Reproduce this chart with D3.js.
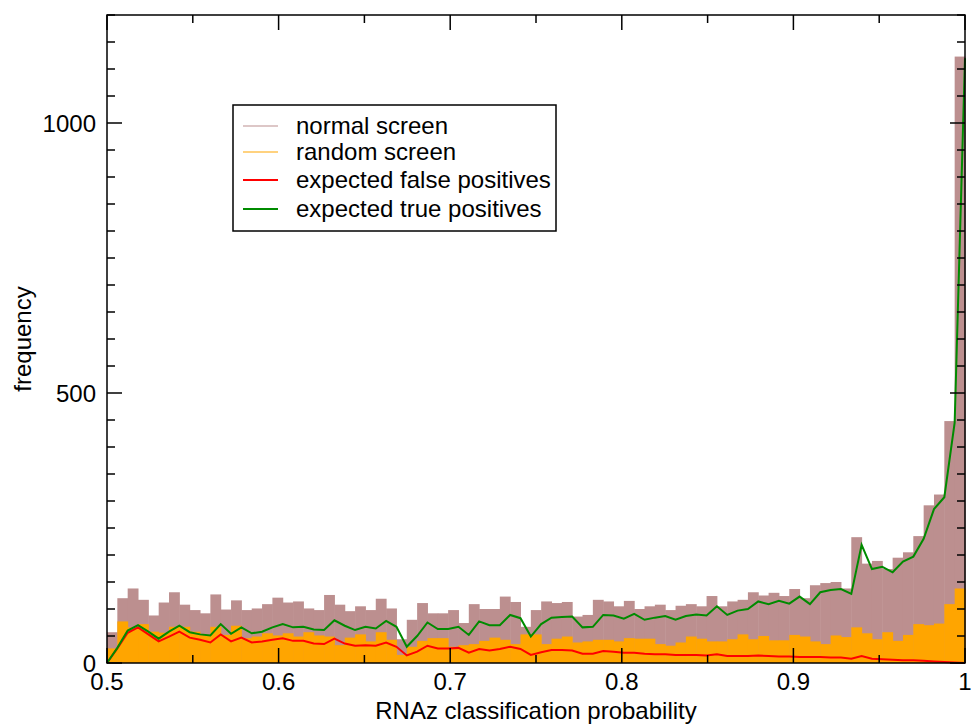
<!DOCTYPE html>
<html>
  <head>
    <meta charset="utf-8">
    <title>RNAz classification probability</title>
    <script src="https://d3js.org/d3.v7.min.js"></script>
    <style>
      body { margin: 0; background: #fff; }
      text { font-family: "Liberation Sans", Arial, sans-serif; fill: #000; }
    </style>
  </head>
  <body>
    <svg id="chart" width="971" height="724"></svg>
    <script>
      // histogram: 83 equal bins between 0.5 and 1
      var binCount = 83;
      var normalScreen = [57, 120, 138, 117, 88, 112, 131, 108, 98, 92, 127, 99, 116, 98, 101, 109, 121, 112, 114, 101,
        98, 126, 108, 96, 105, 98, 119, 101, 44, 80, 111, 92, 92, 98, 74, 109, 100, 100, 123, 113,
        67, 98, 114, 111, 113, 86, 89, 117, 114, 105, 115, 100, 105, 108, 98, 106, 109, 105, 124, 105,
        114, 117, 131, 125, 130, 124, 137, 120, 144, 148, 150, 138, 233, 184, 189, 174, 195, 205, 235, 292,
        312, 448, 1123];
      var randomScreen = [27, 77, 66, 72, 58, 56, 67, 67, 58, 52, 67, 52, 69, 46, 49, 55, 51, 55, 49, 57,
        51, 49, 33, 47, 53, 40, 57, 43, 15, 30, 41, 46, 46, 30, 33, 35, 41, 47, 43, 35,
        53, 53, 35, 45, 49, 38, 40, 43, 43, 40, 46, 45, 45, 35, 32, 38, 49, 45, 40, 40,
        44, 53, 44, 50, 42, 42, 52, 49, 40, 35, 51, 48, 66, 55, 44, 57, 41, 52, 72, 70,
        73, 109, 138];
      // lines: one value per bin edge (0.5 ... 1)
      var falsePositives = [0, 27, 56, 66, 53, 40, 49, 58, 47, 43, 38, 53, 40, 47, 38, 40, 43, 46, 41, 41,
        36, 35, 45, 36, 32, 33, 32, 38, 30, 14, 21, 32, 27, 27, 28, 19, 26, 23, 26, 30,
        26, 15, 20, 24, 24, 23, 17, 17, 22, 21, 19, 19, 17, 16, 16, 15, 15, 15, 14, 16,
        13, 13, 13, 14, 13, 12, 12, 11, 11, 11, 10, 10, 8, 13, 8, 7, 6, 5, 5, 4,
        3, 2, 1, 0];
      var truePositives = [0, 28, 60, 70, 58, 45, 58, 69, 57, 53, 51, 72, 54, 66, 55, 58, 66, 72, 66, 67,
        62, 61, 79, 69, 61, 67, 64, 78, 67, 30, 50, 75, 63, 63, 67, 52, 77, 70, 70, 89,
        83, 49, 72, 84, 85, 86, 66, 67, 89, 88, 82, 91, 80, 84, 87, 80, 87, 90, 88, 105,
        89, 97, 100, 114, 109, 115, 110, 123, 109, 131, 135, 137, 128, 219, 174, 178, 168, 188, 197, 230,
        285, 307, 445, 1120];
      var xTickLabels = [0.5, 0.6, 0.7, 0.8, 0.9, 1];
      var xMinorTicks = [0.55, 0.65, 0.75, 0.85, 0.95];
      var yTickLabels = [0, 500, 1000];
      var legendNames = ["normal screen", "random screen", "expected false positives", "expected true positives"];
      var legendColours = ["#bc8f8f", "#ffa500", "#ff0000", "#008b00"];

      var svg = d3.select("#chart");
      var plotLeft = 107, plotRight = 965, plotTop = 15, plotBottom = 663;
      var x = d3.scaleLinear().domain([0.5, 1]).range([plotLeft, plotRight]);
      var y = d3.scaleLinear().domain([0, 1200]).range([plotBottom, plotTop]);
      var binWidth = 0.5 / binCount;
      var edges = d3.range(binCount + 1).map(function(i) { return 0.5 + i * binWidth; });

      // bars
      function bars(values, colour) {
        svg.append("g")
          .selectAll("rect")
            .data(values)
          .enter().append("rect")
            .attr("x", function(d, i) { return x(edges[i]); })
            .attr("width", function(d, i) { return x(edges[i + 1]) - x(edges[i]) + 0.5; })
            .attr("y", function(d) { return y(d); })
            .attr("height", function(d) { return y(0) - y(d); })
            .style("fill", colour);
      }
      bars(normalScreen, "#bc8f8f");
      bars(randomScreen, "#ffa500");

      // lines
      var line = d3.line()
        .x(function(d, i) { return x(edges[i]); })
        .y(function(d) { return y(d); });
      svg.append("path")
        .attr("d", line(falsePositives))
        .style("fill", "none").style("stroke", "#ff0000").style("stroke-width", 2);
      svg.append("path")
        .attr("d", line(truePositives))
        .style("fill", "none").style("stroke", "#008b00").style("stroke-width", 2);

      // frame and ticks (inward, on all four sides)
      svg.append("rect")
        .attr("x", plotLeft).attr("y", plotTop)
        .attr("width", plotRight - plotLeft).attr("height", plotBottom - plotTop)
        .style("fill", "none").style("stroke", "#000").style("stroke-width", 1.5);
      var ticks = svg.append("g").style("stroke", "#000").style("stroke-width", 1.5);
      function xTick(v, len) {
        ticks.append("line").attr("x1", x(v)).attr("x2", x(v)).attr("y1", plotBottom).attr("y2", plotBottom - len);
        ticks.append("line").attr("x1", x(v)).attr("x2", x(v)).attr("y1", plotTop).attr("y2", plotTop + len);
      }
      function yTick(v, len) {
        ticks.append("line").attr("y1", y(v)).attr("y2", y(v)).attr("x1", plotLeft).attr("x2", plotLeft + len);
        ticks.append("line").attr("y1", y(v)).attr("y2", y(v)).attr("x1", plotRight).attr("x2", plotRight - len);
      }
      xTickLabels.forEach(function(v) { xTick(v, 15); });
      xMinorTicks.forEach(function(v) { xTick(v, 8); });
      y.ticks(24).forEach(function(v) { yTick(v, v % 500 === 0 ? 15 : 8); });

      // tick labels
      svg.append("g")
        .selectAll("text")
          .data(xTickLabels)
        .enter().append("text")
          .attr("x", function(d) { return x(d); })
          .attr("y", plotBottom + 27)
          .attr("text-anchor", "middle")
          .style("font-size", "24px")
          .text(function(d) { return d; });
      svg.append("g")
        .selectAll("text")
          .data(yTickLabels)
        .enter().append("text")
          .attr("x", plotLeft - 11)
          .attr("y", function(d) { return y(d) + 8.5; })
          .attr("text-anchor", "end")
          .style("font-size", "24px")
          .text(function(d) { return d; });

      // axis titles
      svg.append("text")
        .attr("x", (plotLeft + plotRight) / 2).attr("y", 719)
        .attr("text-anchor", "middle")
        .style("font-size", "24px")
        .text("RNAz classification probability");
      svg.append("text")
        .attr("transform", "translate(31," + (plotTop + plotBottom) / 2 + ") rotate(-90)")
        .attr("text-anchor", "middle")
        .style("font-size", "24px")
        .text("frequency");

      // legend
      var legend = svg.append("g");
      legend.append("rect")
        .attr("x", 233).attr("y", 105).attr("width", 323).attr("height", 126)
        .style("fill", "#fff").style("stroke", "#000").style("stroke-width", 1.5);
      var rowY = [126, 152, 180, 209];
      legendNames.forEach(function(name, i) {
        legend.append("line")
          .attr("x1", 243).attr("x2", 278).attr("y1", rowY[i]).attr("y2", rowY[i])
          .style("stroke", legendColours[i])
          .style("stroke-width", i < 2 ? 1.2 : 2);
        legend.append("text")
          .attr("x", 296).attr("y", rowY[i] + 8)
          .style("font-size", "24px")
          .text(name);
      });
    </script>
  </body>
</html>
